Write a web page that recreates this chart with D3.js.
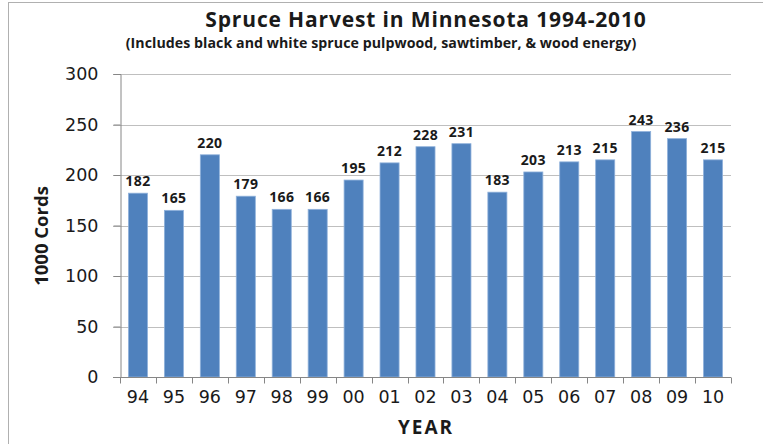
<!DOCTYPE html>
<html>
<head>
<meta charset="utf-8">
<script src="https://cdn.jsdelivr.net/npm/d3@7"></script>
<style>
  html, body { margin: 0; padding: 0; background: #fff; }
  svg { display: block; }
</style>
</head>
<body>
<svg width="763" height="444"></svg>
<script>
const years = ['94', '95', '96', '97', '98', '99', '00', '01', '02', '03', '04', '05', '06', '07', '08', '09', '10'];
const cords = [182, 165, 220, 179, 166, 166, 195, 212, 228, 231, 183, 203, 213, 215, 243, 236, 215];
const yTicks = [0, 50, 100, 150, 200, 250, 300];

const barColor = '#4F81BD';
const barEdge = '#8fb1db';
const gridColor = '#bfbfbf';
const axisColor = '#868686';
const textColor = '#1a1a1a';
const tickFont = '"DejaVu Sans", Verdana, sans-serif';
const boldFont = '"Open Sans", sans-serif';

const svg = d3.select('svg');
const plotLeft = 120, plotRight = 731, plotTop = 74, plotBottom = 377;

// outer frame (runs off the right and bottom edge)
svg.append('rect')
	.attr('x', 8.5)
	.attr('y', 2.5)
	.attr('width', 800)
	.attr('height', 500)
	.attr('fill', 'none')
	.attr('stroke', '#b0b0b0');

const x = d3.scaleBand()
	.domain(years)
	.range([plotLeft, plotRight])
	.paddingInner(0.47)
	.paddingOuter(0.235);

const y = d3.scaleLinear()
	.domain([0, 300])
	.range([plotBottom, plotTop]);

// gridlines
svg.append('g')
	.selectAll('line')
	.data(yTicks.filter(d => d > 0))
	.join('line')
		.attr('x1', plotLeft - 7)
		.attr('x2', plotRight)
		.attr('y1', d => Math.round(y(d)) + 0.5)
		.attr('y2', d => Math.round(y(d)) + 0.5)
		.attr('stroke', gridColor);

// bars
svg.append('g')
	.selectAll('rect')
	.data(cords)
	.join('rect')
		.attr('x', (d, i) => x(years[i]))
		.attr('y', d => y(d))
		.attr('width', x.bandwidth())
		.attr('height', d => plotBottom - y(d))
		.attr('fill', barColor)
		.attr('stroke', barEdge)
		.attr('stroke-width', 0.8);

// value labels
svg.append('g')
	.selectAll('text')
	.data(cords)
	.join('text')
		.attr('x', (d, i) => x(years[i]) + x.bandwidth() / 2)
		.attr('y', d => y(d) - 7)
		.attr('text-anchor', 'middle')
		.attr('font-family', boldFont)
		.attr('font-weight', 'bold')
		.attr('font-size', 14)
		.attr('letter-spacing', 0.4)
		.attr('fill', textColor)
		.text(d => d);

// y axis
const yAxis = svg.append('g')
	.attr('transform', `translate(${plotLeft + 0.5},0)`)
	.call(d3.axisLeft(y).tickValues(yTicks).tickSize(7).tickPadding(15));
yAxis.select('.domain').attr('stroke', axisColor);
yAxis.selectAll('.tick line').attr('stroke', axisColor);
yAxis.selectAll('.tick text')
	.attr('font-family', tickFont)
	.attr('font-size', 17.5)
	.attr('fill', textColor);

// x axis (ticks sit between categories)
const xAxis = svg.append('g')
	.attr('transform', `translate(0,${plotBottom + 0.5})`)
	.call(d3.axisBottom(x).tickSize(0).tickPadding(13));
xAxis.select('.domain').attr('stroke', axisColor)
	.attr('d', `M${plotLeft - 7},0H${plotRight}`);
xAxis.selectAll('.tick text')
	.attr('font-family', tickFont)
	.attr('font-size', 17.5)
	.attr('fill', textColor);
xAxis.append('g')
	.selectAll('line')
	.data(d3.range(years.length + 1))
	.join('line')
		.attr('x1', i => Math.round(plotLeft + i * x.step()) + 0.5)
		.attr('x2', i => Math.round(plotLeft + i * x.step()) + 0.5)
		.attr('y1', 0)
		.attr('y2', 6)
		.attr('stroke', axisColor);

// titles
svg.append('text')
	.attr('x', 426)
	.attr('y', 27)
	.attr('text-anchor', 'middle')
	.attr('font-family', boldFont)
	.attr('font-weight', 'bold')
	.attr('font-size', 21)
	.attr('letter-spacing', 0.85)
	.attr('fill', textColor)
	.text('Spruce Harvest in Minnesota 1994-2010');

svg.append('text')
	.attr('x', 381)
	.attr('y', 48)
	.attr('text-anchor', 'middle')
	.attr('font-family', boldFont)
	.attr('font-weight', 'bold')
	.attr('font-size', 14.2)
	.attr('letter-spacing', 0.05)
	.attr('fill', textColor)
	.text('(Includes black and white spruce pulpwood, sawtimber, & wood energy)');

svg.append('text')
	.attr('x', 426)
	.attr('y', 434)
	.attr('text-anchor', 'middle')
	.attr('font-family', boldFont)
	.attr('font-weight', 'bold')
	.attr('font-size', 19)
	.attr('letter-spacing', 2)
	.attr('fill', textColor)
	.text('YEAR');

svg.append('text')
	.attr('transform', 'translate(48,236) rotate(-90)')
	.attr('text-anchor', 'middle')
	.attr('font-family', boldFont)
	.attr('font-weight', 'bold')
	.attr('font-size', 18.5)
	.attr('fill', textColor)
	.text('1000 Cords');
</script>
</body>
</html>
